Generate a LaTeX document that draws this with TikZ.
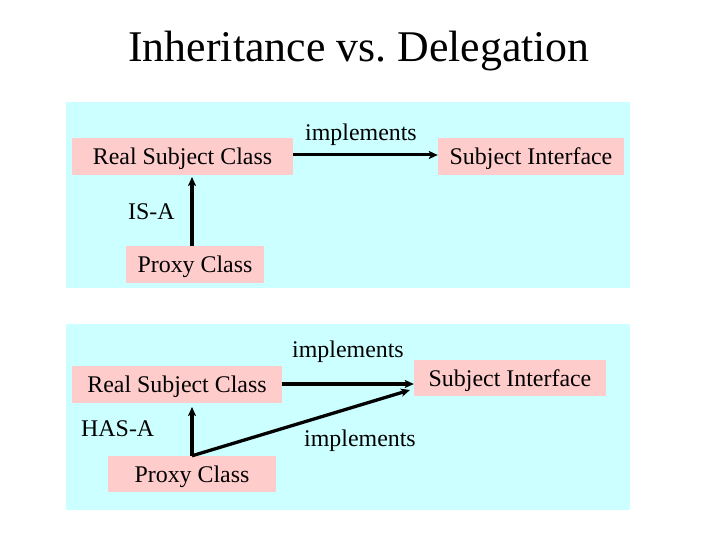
\documentclass[tikz,border=0pt]{standalone}
\usepackage{fontspec}
\setmainfont{Liberation Serif}
\usetikzlibrary{arrows.meta}
\definecolor{panelcyan}{HTML}{CCFFFF}
\definecolor{boxpink}{HTML}{FFCCCC}
\tikzset{
  panel/.style={fill=panelcyan, draw=none},
  box/.style={fill=boxpink, draw=none, inner xsep=0pt, inner ysep=0pt,
    text height=18bp, text depth=2bp, font=\fontsize{24}{28}\selectfont},
  lbl/.style={anchor=base west, inner sep=0pt, font=\fontsize{24}{28}\selectfont},
  conn/.style={line width=3.3bp, -{Stealth[length=9bp,width=8bp,inset=2bp]}},
  connv/.style={line width=4bp, -{Stealth[length=9bp,width=8bp,inset=2bp]}},
}
\begin{document}
\begin{tikzpicture}[x=1bp,y=-1bp]
\useasboundingbox[fill=white] (0,0) rectangle (720,540);
% title
\node[anchor=base, inner sep=0pt, font=\fontsize{44}{50}\selectfont] (title) at (359,62) {Inheritance vs.\ Delegation};
% panels
\fill[panel] (66,102) rectangle (630,288);
\fill[panel] (66,324) rectangle (630,510);
% upper panel
\node[box, minimum width=221bp, minimum height=37bp] (rs1) at (182.5,156.5) {Real Subject Class};
\node[box, minimum width=186bp, minimum height=37bp] (si1) at (531,156.5) {Subject Interface};
\node[box, minimum width=138bp, minimum height=37bp] (px1) at (195,264.5) {Proxy Class};
\node[lbl] (impl1) at (305,141) {implements};
\node[lbl] (isa) at (128,220) {IS-A};
\draw[conn, line width=3bp] (rs1.east |- 0,155) -- (si1.west |- 0,155);
\coordinate (px1top) at (192,246);
\coordinate (rs1bot) at (192,177);
\draw[connv] (px1top) -- (rs1bot);
% lower panel
\node[box, minimum width=210bp, minimum height=37bp] (rs2) at (177,384.5) {Real Subject Class};
\node[box, minimum width=192bp, minimum height=36bp] (si2) at (510,378) {Subject Interface};
\node[box, minimum width=168bp, minimum height=36bp] (px2) at (192,474) {Proxy Class};
\node[lbl] (impl2) at (292,357) {implements};
\node[lbl] (hasa) at (81,436) {HAS-A};
\node[lbl] (impl3) at (304,446) {implements};
\coordinate (corner) at (px2.north);
\coordinate (rs2bot) at (192,407);
\coordinate (si2tip) at (410,390);
\draw[conn] (rs2.east |- 0,384) -- (si2.west |- 0,384);
\draw[conn] (corner) -- (si2tip);
\draw[conn, line width=3.5bp] (corner) -- (rs2bot);
\end{tikzpicture}
\end{document}
